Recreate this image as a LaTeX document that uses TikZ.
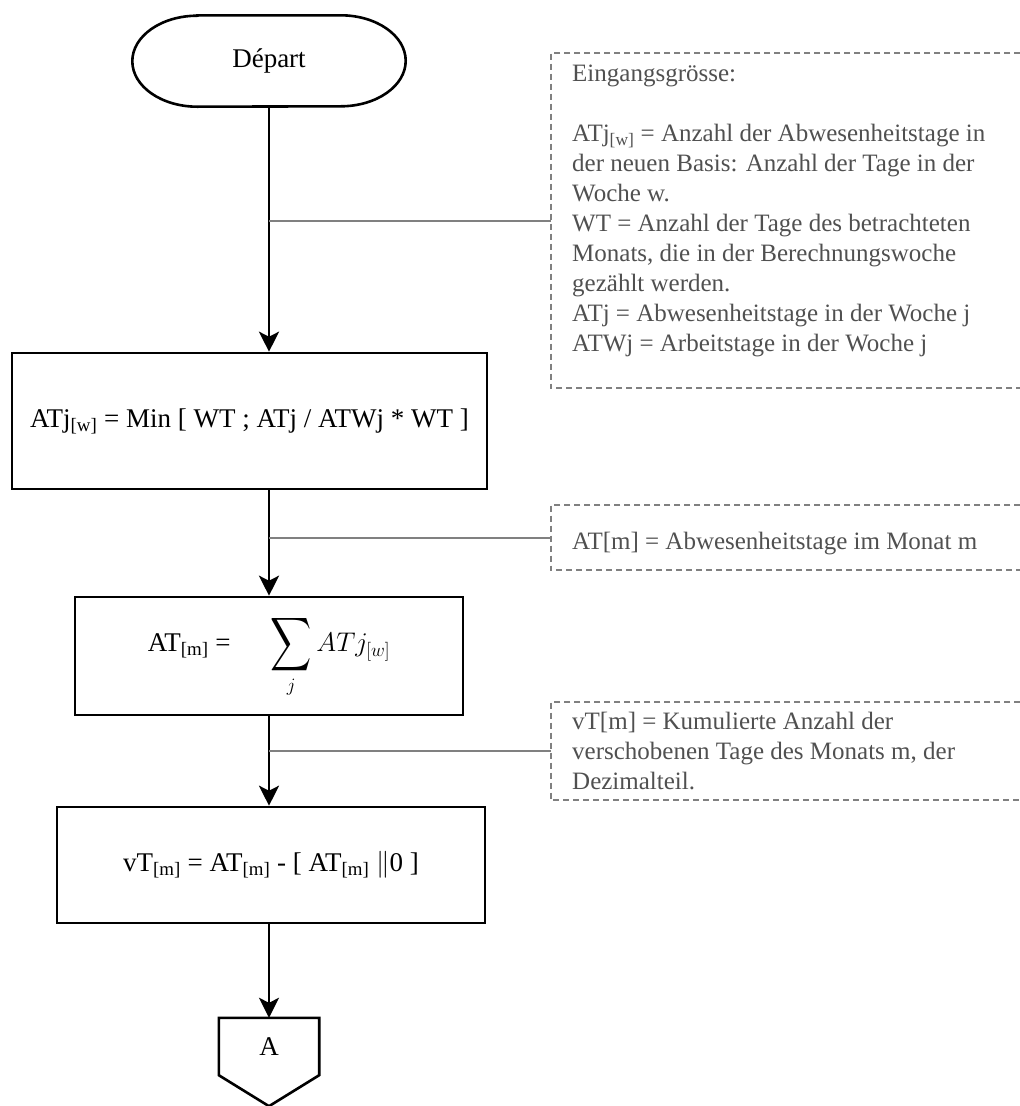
\RequirePackage{fix-cm}
\documentclass[tikz,border=0pt]{standalone}
\usepackage{amsmath}
\usepackage{exscale}
\usepackage{fontspec}
\setmainfont{Liberation Serif}
\usepackage{tikz}
\usetikzlibrary{calc,positioning,arrows.meta}
\definecolor{notegray}{RGB}{80,80,80}
\definecolor{framegray}{RGB}{128,128,128}
\newcommand{\bigsum}{\mathop{\vcenter{\hbox{\scalebox{1.15}[1.5]{$\displaystyle\sum$}}}}\limits}

\begin{document}
\begin{tikzpicture}[x=1pt, y=1pt,
    term/.style={inner sep=0pt, font=\fontsize{27}{32}\selectfont},
    box/.style={term, draw, line width=2.6pt},
    noteframe/.style={inner sep=0pt, minimum width=469pt, anchor=north west},
    note/.style={inner sep=0pt, align=left, text=notegray, font=\fontsize{25}{30}\selectfont},
    dashframe/.style={draw=framegray, line width=2pt, dash pattern=on 6pt off 4pt},
    link/.style={draw=framegray, line width=2pt},
    flow/.style={line width=2.6pt, ->},
    >={Stealth[length=20pt, width=20pt, inset=5pt]}]
  \useasboundingbox (0,0) rectangle (1020,-1106);

  % flow chart
  \node[term, minimum width=273pt, minimum height=91pt] (dep) at (269,-61) {Départ};
  \draw[line width=2.6pt] ($(dep.north west)+(65,0)$) -- ($(dep.north east)+(-65,0)$)
    arc[start angle=90, end angle=-90, x radius=65, y radius=45.5]
    -- ($(dep.south west)+(65,0)$)
    arc[start angle=270, end angle=90, x radius=65, y radius=45.5] -- cycle;
  \node[box, minimum width=475pt, minimum height=136pt] (calc) at (249.5,-421)
    {ATj\textsubscript{[w]} = Min [ WT ; ATj / ATWj * WT ]};
  \node[box, minimum width=388pt, minimum height=118pt] (sum) at (269,-656)
    {AT\textsubscript{[m]} =\hspace{40pt}$\bigsum_{j} ATj_{[w]}$};
  \node[box, minimum width=428pt, minimum height=116pt] (frac) at (271,-865)
    {vT\textsubscript{[m]} = AT\textsubscript{[m]} - [ AT\textsubscript{[m]} $\|$0 ]};
  \node[term, minimum width=100pt, minimum height=57pt] (goA) at (269,-1046.5) {A};
  \draw[line width=2.6pt] (goA.north west) -- (goA.north east) -- (goA.south east)
    -- ($(goA.south)+(0,-31)$) -- (goA.south west) -- cycle;

  \draw[flow] (dep.south) -- (dep.south |- calc.north);
  \draw[flow] (dep.south |- calc.south) -- (sum.north);
  \draw[flow] (sum.south) -- (sum.south |- frac.north);
  \draw[flow] (sum.south |- frac.south) -- (goA.north);

  % notes
  \node[noteframe, minimum height=335pt] (in) at (551,-53) {};
  \draw[dashframe] (in.north east) -- (in.north west) -- (in.south west) -- (in.south east);
  \node[note, below right=12pt and 21pt of in.north west] (intext)
    {Eingangsgrösse:\\[30pt]
     ATj\textsubscript{[w]} = Anzahl der Abwesenheitstage in\\
     der neuen Basis: Anzahl der Tage in der\\
     Woche w.\\
     WT = Anzahl der Tage des betrachteten\\
     Monats, die in der Berechnungswoche\\
     gezählt werden.\\
     ATj = Abwesenheitstage in der Woche j\\
     ATWj = Arbeitstage in der Woche j};
  \draw[link] (in.west) -- (in.west -| dep.south);

  \node[noteframe, minimum height=65pt] (atm) at (551,-505) {};
  \draw[dashframe] (atm.north east) -- (atm.north west) -- (atm.south west) -- (atm.south east);
  \node[note, below right=27pt and 21pt of atm.north west] (atmtext)
    {AT[m] = Abwesenheitstage im Monat m};
  \draw[link] (atm.west) -- (atm.west -| sum.south);

  \node[noteframe, minimum height=98pt] (vtm) at (551,-702) {};
  \draw[dashframe] (vtm.north east) -- (vtm.north west) -- (vtm.south west) -- (vtm.south east);
  \node[note, below right=10pt and 21pt of vtm.north west] (vtmtext)
    {vT[m] = Kumulierte Anzahl der\\
     verschobenen Tage des Monats m, der\\
     Dezimalteil.};
  \draw[link] (vtm.west) -- (vtm.west -| sum.south);
\end{tikzpicture}
\end{document}
